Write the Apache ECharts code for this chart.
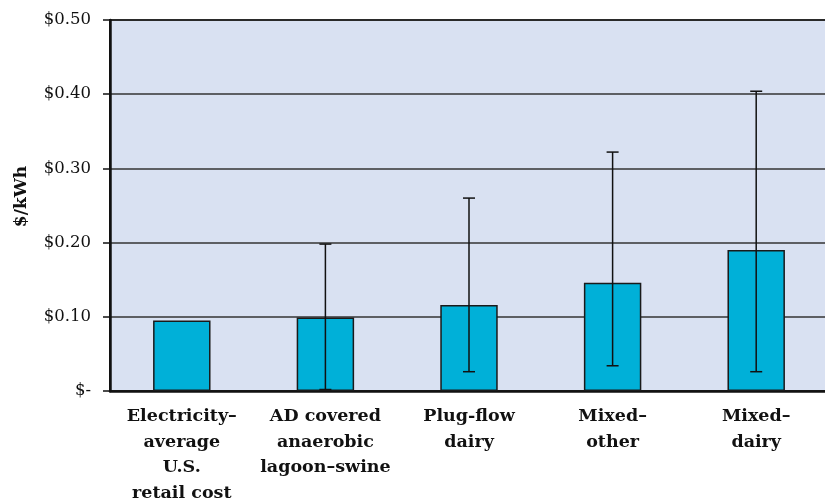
<!DOCTYPE html>
<html>
<head>
<meta charset="utf-8">
<script src="https://cdn.jsdelivr.net/npm/echarts@6/dist/echarts.min.js"></script>
<style>html,body{margin:0;padding:0;background:#fff;}#c{width:825px;height:500px;}</style>
</head>
<body>
<div id="c"></div>
<script>
var categories = ['Electricity–\naverage\nU.S.\nretail cost', 'AD covered\nanaerobic\nlagoon–swine', 'Plug-flow\ndairy', 'Mixed–\nother', 'Mixed–\ndairy'];
var costs = [0.095, 0.099, 0.116, 0.146, 0.190];
var errLow = [null, 0.002, 0.026, 0.034, 0.026];
var errHigh = [null, 0.198, 0.260, 0.322, 0.404];
var yTicks = [0, 0.1, 0.2, 0.3, 0.4, 0.5];

var errData = [];
for (var i = 0; i < categories.length; i++) {
  if (errLow[i] != null) errData.push([i, errLow[i], errHigh[i]]);
}

var chart = echarts.init(document.getElementById('c'));
chart.setOption({
  animation: false,
  grid: {
    left: 110, right: -3, top: 20, bottom: 109,
    outerBoundsMode: 'none', containLabel: false,
    show: true, backgroundColor: '#D9E1F2', borderColor: '#111', borderWidth: 2
  },
  xAxis: {
    type: 'category',
    data: categories,
    axisLine: { show: true, lineStyle: { color: '#111', width: 2.5 } },
    axisTick: { show: false },
    axisLabel: {
      interval: 0, margin: 13, color: '#111',
      fontFamily: '"DejaVu Serif", serif', fontWeight: 'bold', fontSize: 17.5, lineHeight: 25.5
    }
  },
  yAxis: {
    type: 'value',
    min: yTicks[0], max: yTicks[yTicks.length - 1], interval: 0.1,
    name: '$/kWh', nameLocation: 'middle', nameGap: 80, nameRotate: 90,
    nameTextStyle: { fontFamily: '"DejaVu Serif", serif', fontWeight: 'bold', fontSize: 17, color: '#111', padding: [0, 0, 0, 18] },
    axisLine: { show: true, lineStyle: { color: '#111', width: 2.5 } },
    axisTick: { show: true, length: 7, lineStyle: { color: '#111', width: 1.5 } },
    axisLabel: {
      margin: 19, color: '#111', fontFamily: '"DejaVu Serif", serif', fontSize: 16.5,
      formatter: function (v) { return v === 0 ? '$-' : '$' + v.toFixed(2); }
    },
    splitLine: { show: true, lineStyle: { color: '#333', width: 1.5 } }
  },
  series: [
    {
      type: 'bar',
      data: costs,
      barWidth: '40%',
      itemStyle: { color: '#00B0D8', borderColor: '#1a1a1a', borderWidth: 1.5 }
    },
    {
      type: 'custom',
      z: 10,
      data: errData,
      renderItem: function (params, api) {
        var x = api.value(0);
        var lo = api.coord([x, api.value(1)]);
        var hi = api.coord([x, api.value(2)]);
        var hw = 6;
        var st = { stroke: '#111', lineWidth: 1.5 };
        return {
          type: 'group',
          children: [
            { type: 'line', shape: { x1: hi[0], y1: hi[1], x2: lo[0], y2: lo[1] }, style: st },
            { type: 'line', shape: { x1: hi[0] - hw, y1: hi[1], x2: hi[0] + hw, y2: hi[1] }, style: st },
            { type: 'line', shape: { x1: lo[0] - hw, y1: lo[1], x2: lo[0] + hw, y2: lo[1] }, style: st }
          ]
        };
      }
    }
  ]
});
</script>
</body>
</html>
